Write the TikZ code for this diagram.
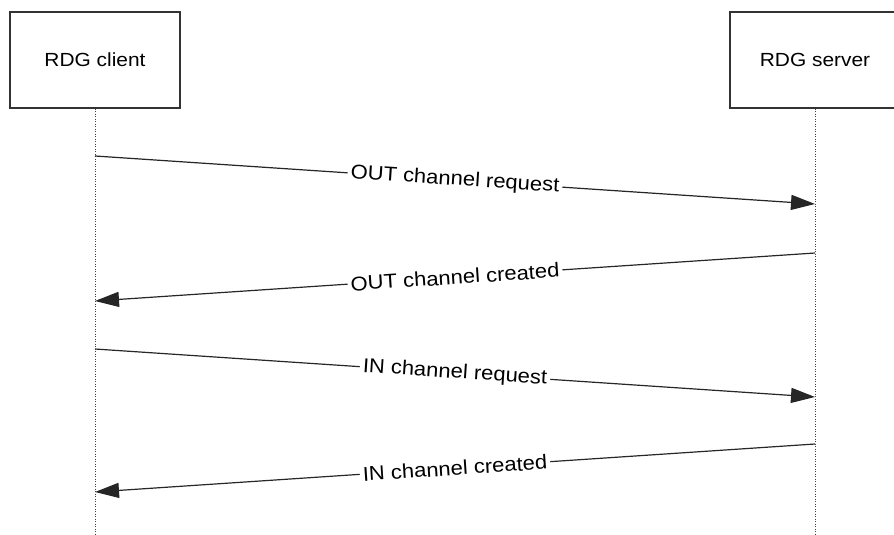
\documentclass[tikz,border=0pt]{standalone}
\usepackage{fontspec}
\setmainfont{Liberation Sans}
\usetikzlibrary{arrows.meta}
\begin{document}
\begin{tikzpicture}[x=1pt,y=-1pt,
  actor/.style={draw=black!80,line width=1.4pt,minimum width=170pt,minimum height=96pt,inner sep=0pt,font=\fontsize{19}{21}\selectfont},
  lifeline/.style={draw=black!75,line width=1pt,dash pattern=on 1pt off 1.5pt},
  msg/.style={draw=black!85,line width=1.2pt,-{Triangle[length=24pt,width=15pt]}},
  lbl/.style={fill=white,sloped,inner xsep=3pt,inner ysep=1pt,font=\fontsize{20}{22}\selectfont}]
\useasboundingbox (0,0) rectangle (894,535);
\clip (0,0) rectangle (894,535);
\node[actor] (client) at (95,60) {\scalebox{1.1}[1]{RDG client}};
\node[actor] (server) at (815,60) {\scalebox{1.1}[1]{RDG server}};
\coordinate (cb) at (95,535);
\coordinate (sb) at (815,535);
\draw[lifeline] (client.south) -- (cb);
\draw[lifeline] (server.south) -- (sb);
\coordinate (c1) at (95,156);
\coordinate (s1) at (815,204);
\coordinate (s2) at (815,253);
\coordinate (c2) at (95,301);
\coordinate (c3) at (95,349);
\coordinate (s3) at (815,397);
\coordinate (s4) at (815,444);
\coordinate (c4) at (95,492);
\draw[msg] (c1) -- node[lbl] {\scalebox{1.1}[1]{OUT channel request}} (s1);
\draw[msg] (s2) -- node[lbl] {\scalebox{1.1}[1]{OUT channel created}} (c2);
\draw[msg] (c3) -- node[lbl] {\scalebox{1.1}[1]{IN channel request}} (s3);
\draw[msg] (s4) -- node[lbl] {\scalebox{1.1}[1]{IN channel created}} (c4);
\end{tikzpicture}
\end{document}
